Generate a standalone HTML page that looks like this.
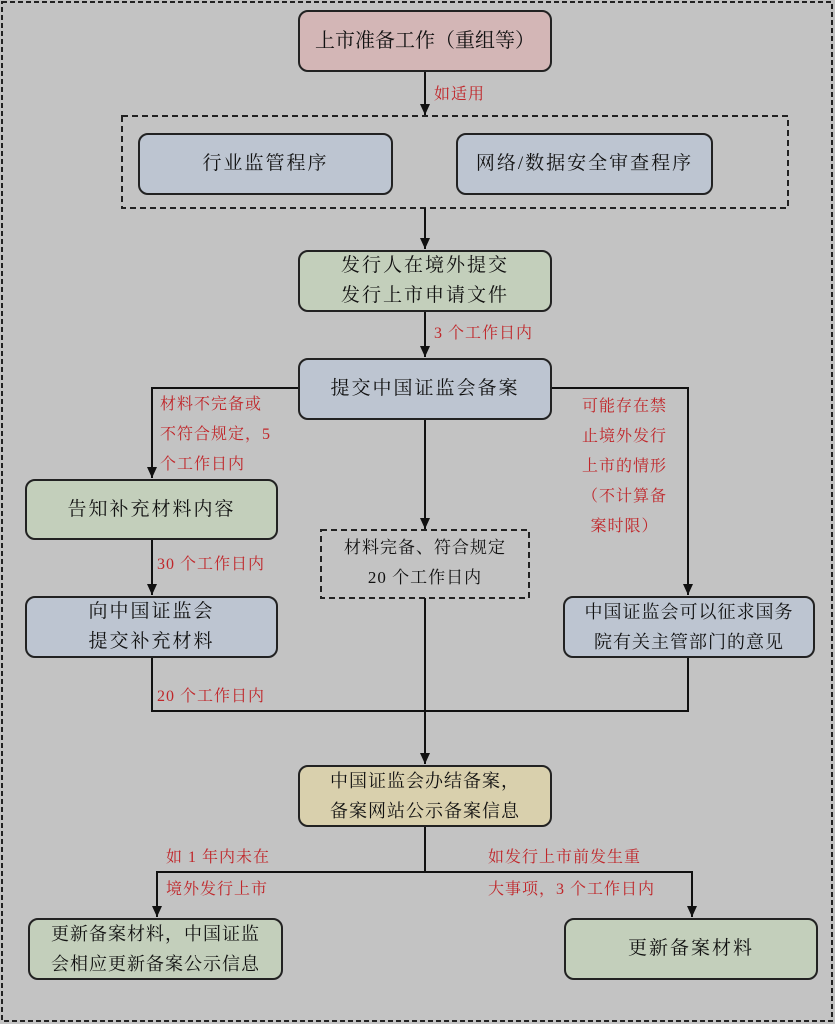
<!DOCTYPE html>
<html><head><meta charset="utf-8"><style>
body{margin:0;width:835px;height:1024px;background:#c3c3c3;position:relative;overflow:hidden;font-family:"Liberation Serif","Noto Serif CJK SC",serif;}
.b{position:absolute;box-sizing:border-box;border:2px solid #222;border-radius:10px;display:flex;align-items:center;justify-content:center;text-align:center;font-size:19px;line-height:30px;color:#111;letter-spacing:2px}
.r{position:absolute;color:#c0262a;font-size:16px;line-height:30px;letter-spacing:1px;white-space:nowrap}
.pk{background:#d3b6b6}.bl{background:#bdc5d1}.gr{background:#c3cfbb}.ye{background:#d9d0ad}
svg{position:absolute;left:0;top:0}
</style></head><body>
<svg width="835" height="1024">
<defs><marker id="a" markerWidth="12" markerHeight="12" refX="11" refY="5" orient="auto" markerUnits="userSpaceOnUse"><path d="M0,0 L11,5 L0,10z" fill="#111"/></marker></defs>
<rect x="2" y="2" width="830" height="1019" fill="none" stroke="#222" stroke-width="2" stroke-dasharray="5,3"/>
<rect x="122" y="116" width="666" height="92" fill="none" stroke="#222" stroke-width="2" stroke-dasharray="6,4"/>
<rect x="321" y="530" width="208" height="68" fill="none" stroke="#222" stroke-width="2" stroke-dasharray="6,4"/>
<g stroke="#111" stroke-width="2" fill="none">
<line x1="425" y1="72" x2="425" y2="115" marker-end="url(#a)"/>
<line x1="425" y1="208" x2="425" y2="249" marker-end="url(#a)"/>
<line x1="425" y1="312" x2="425" y2="357" marker-end="url(#a)"/>
<polyline points="298,388 152,388 152,478" marker-end="url(#a)"/>
<polyline points="552,388 688,388 688,595" marker-end="url(#a)"/>
<line x1="425" y1="420" x2="425" y2="529" marker-end="url(#a)"/>
<line x1="152" y1="540" x2="152" y2="595" marker-end="url(#a)"/>
<polyline points="152,658 152,711 688,711 688,658"/>
<line x1="425" y1="598" x2="425" y2="764" marker-end="url(#a)"/>
<polyline points="425,827 425,872"/>
<polyline points="157,916 157,872 692,872 692,916"/>
<line x1="157" y1="900" x2="157" y2="917" marker-end="url(#a)"/>
<line x1="692" y1="900" x2="692" y2="917" marker-end="url(#a)"/>
</g></svg>
<div class="b pk" style="left:298px;top:10px;width:254px;height:62px;font-size:20px;letter-spacing:0">上市准备工作（重组等）</div>
<div class="r" style="left:434px;top:80px">如适用</div>
<div class="b bl" style="left:138px;top:133px;width:255px;height:62px">行业监管程序</div>
<div class="b bl" style="left:456px;top:133px;width:257px;height:62px">网络/数据安全审查程序</div>
<div class="b gr" style="left:298px;top:250px;width:254px;height:62px">发行人在境外提交<br>发行上市申请文件</div>
<div class="r" style="left:434px;top:319px">3 个工作日内</div>
<div class="b bl" style="left:298px;top:358px;width:254px;height:62px">提交中国证监会备案</div>
<div class="r" style="left:160px;top:390px">材料不完备或<br>不符合规定，5<br>个工作日内</div>
<div class="r" style="left:582px;top:392px;text-align:center">可能存在禁<br>止境外发行<br>上市的情形<br>（不计算备<br>案时限）</div>
<div class="b gr" style="left:25px;top:479px;width:253px;height:61px">告知补充材料内容</div>
<div class="r" style="left:157px;top:550px">30 个工作日内</div>
<div style="position:absolute;left:323px;top:533px;width:204px;text-align:center;color:#111;font-size:17px;line-height:30px;letter-spacing:1px">材料完备、符合规定<br>20 个工作日内</div>
<div class="b bl" style="left:25px;top:596px;width:253px;height:62px">向中国证监会<br>提交补充材料</div>
<div class="b bl" style="left:563px;top:596px;width:252px;height:62px;font-size:18px;letter-spacing:1px">中国证监会可以征求国务<br>院有关主管部门的意见</div>
<div class="r" style="left:157px;top:682px">20 个工作日内</div>
<div class="b ye" style="left:298px;top:765px;width:254px;height:62px;font-size:18px;letter-spacing:1px">中国证监会办结备案，<br>备案网站公示备案信息</div>
<div class="r" style="left:166px;top:843px">如 1 年内未在</div>
<div class="r" style="left:166px;top:875px">境外发行上市</div>
<div class="r" style="left:488px;top:843px">如发行上市前发生重</div>
<div class="r" style="left:488px;top:875px">大事项，3 个工作日内</div>
<div class="b gr" style="left:28px;top:918px;width:255px;height:62px;font-size:18px;letter-spacing:1px">更新备案材料，中国证监<br>会相应更新备案公示信息</div>
<div class="b gr" style="left:564px;top:918px;width:254px;height:62px">更新备案材料</div>
</body></html>
